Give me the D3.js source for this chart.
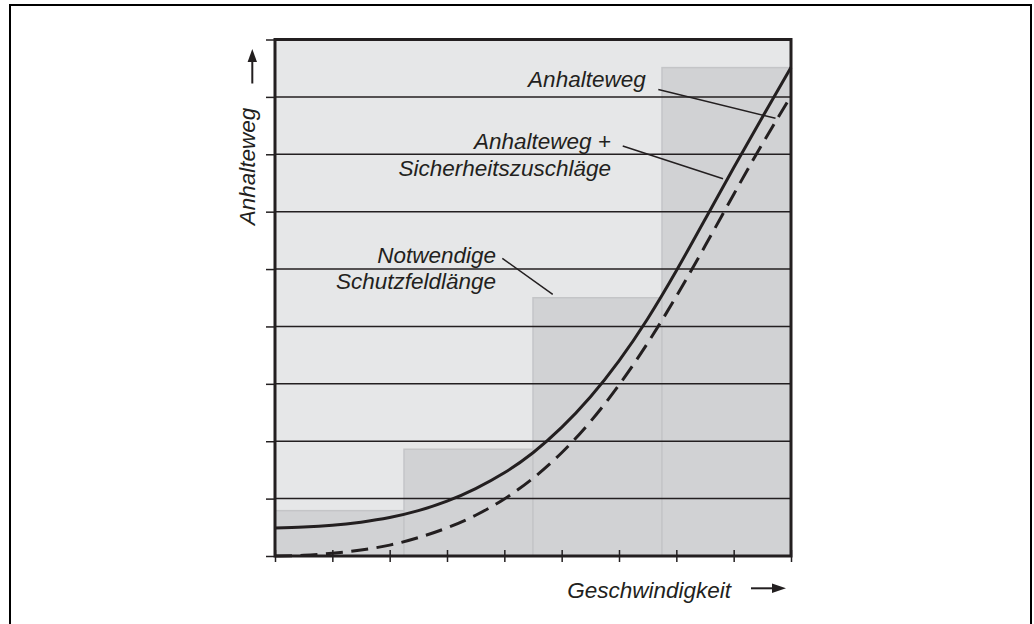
<!DOCTYPE html>
<html>
<head>
<meta charset="utf-8">
<script src="https://cdn.jsdelivr.net/npm/d3@7"></script>
<style>
  html, body { margin: 0; padding: 0; background: #ffffff; }
  svg { display: block; }
  text { font-family: "Liberation Sans", Arial, sans-serif; font-style: italic; fill: #231f20; }
</style>
</head>
<body>
<svg id="chart" width="1034" height="624"></svg>
<script>
// ---- data ----
const speed = [0, 0.5, 1, 1.5, 2, 2.5, 3, 3.5, 4, 4.5, 5, 5.5, 6, 6.5, 7, 7.5, 8, 8.5, 9];
const anhalteweg = [0, 0.0125, 0.0475, 0.105, 0.19, 0.32, 0.49, 0.71, 0.995, 1.355, 1.80, 2.34, 2.98, 3.71, 4.525, 5.40, 6.30, 7.18, 8.015];
const anhaltewegPlus = [0.49, 0.505, 0.535, 0.59, 0.67, 0.79, 0.955, 1.175, 1.45, 1.80, 2.24, 2.77, 3.40, 4.135, 4.97, 5.865, 6.765, 7.645, 8.515];
const barStart = [0, 2.25, 4.5, 6.75];
const barEnd = [2.25, 4.5, 6.75, 9];
const barHeight = [0.79, 1.86, 4.5, 8.51];
const yTickValues = [0, 1, 2, 3, 4, 5, 6, 7, 8, 9];
const xTickValues = [0, 1, 2, 3, 4, 5, 6, 7, 8, 9];
const gridValues = [1, 2, 3, 4, 5, 6, 7, 8];
const yLabel = "Anhalteweg";
const xLabel = "Geschwindigkeit";
const labelAnhalteweg = ["Anhalteweg"];
const labelPlus = ["Anhalteweg +", "Sicherheitszuschläge"];
const labelSchutz = ["Notwendige", "Schutzfeldlänge"];

// ---- layout ----
const svg = d3.select("#chart");
const ink = "#231f20";
const x = d3.scaleLinear().domain([0, 9]).range([275, 791]);
const y = d3.scaleLinear().domain([0, 9]).range([556, 39.5]);

// outer frame (open at bottom)
svg.append("path")
  .attr("d", "M10,624 V5 H1031 V624")
  .attr("fill", "none").attr("stroke", "#000").attr("stroke-width", 2);

// plot background
svg.append("rect")
  .attr("x", x(0)).attr("y", y(9))
  .attr("width", x(9) - x(0)).attr("height", y(0) - y(9))
  .attr("fill", "#e6e7e8");

// bars
const bars = barStart.map((s, i) => ({ s, e: barEnd[i], h: barHeight[i] }));
svg.append("g").selectAll("rect").data(bars).join("rect")
  .attr("x", d => x(d.s))
  .attr("y", d => y(d.h))
  .attr("width", d => x(d.e) - x(d.s))
  .attr("height", d => y(0) - y(d.h))
  .attr("fill", "#d1d2d4")
  .attr("stroke", "#c4c5c7")
  .attr("stroke-width", 1.5);

// grid lines
svg.append("g").selectAll("line").data(gridValues).join("line")
  .attr("x1", x(0)).attr("x2", x(9))
  .attr("y1", d => y(d)).attr("y2", d => y(d))
  .attr("stroke", ink).attr("stroke-width", 1.5);

// curves
const line = d3.line().curve(d3.curveNatural);
svg.append("path")
  .attr("d", line(speed.map((v, i) => [x(v), y(anhalteweg[i])])))
  .attr("fill", "none").attr("stroke", ink).attr("stroke-width", 3)
  .attr("stroke-dasharray", "17,8.5");
svg.append("path")
  .attr("d", line(speed.map((v, i) => [x(v), y(anhaltewegPlus[i])])))
  .attr("fill", "none").attr("stroke", ink).attr("stroke-width", 3);

// axes
const yAxis = d3.axisLeft(y).tickValues(yTickValues).tickSize(9).tickFormat("");
const gy = svg.append("g").attr("transform", `translate(${x(0)},0)`).call(yAxis);
gy.select(".domain").remove();
gy.selectAll(".tick line").attr("stroke", ink).attr("stroke-width", 1.5);

const xAxis = d3.axisBottom(x).tickValues(xTickValues).tickSize(6).tickFormat("");
const gx = svg.append("g").attr("transform", `translate(0,${y(0)})`).call(xAxis);
gx.select(".domain").remove();
gx.selectAll(".tick line").attr("y1", -6).attr("y2", 6)
  .attr("stroke", ink).attr("stroke-width", 1.5);

// plot frame
svg.append("rect")
  .attr("x", x(0)).attr("y", y(9))
  .attr("width", x(9) - x(0)).attr("height", y(0) - y(9))
  .attr("fill", "none").attr("stroke", ink).attr("stroke-width", 3);

// leader lines (data units)
const leaders = [
  [[6.686, 8.128], [8.73, 7.627]],
  [[6.065, 7.144], [7.814, 6.574]],
  [[3.965, 5.187], [4.844, 4.56]]
];
svg.append("g").selectAll("line").data(leaders).join("line")
  .attr("x1", d => x(d[0][0])).attr("y1", d => y(d[0][1]))
  .attr("x2", d => x(d[1][0])).attr("y2", d => y(d[1][1]))
  .attr("stroke", ink).attr("stroke-width", 1.5);

// labels
const fs = "22.5px";
function block(lines, xr, yBase, dy) {
  const t = svg.append("text").attr("text-anchor", "end").style("font-size", fs);
  lines.forEach((l, i) => {
    t.append("tspan").attr("x", x(xr)).attr("y", yBase + i * dy).text(l);
  });
}
block(labelAnhalteweg, 6.466, 86.7, 0);
block(labelPlus, 5.861, 148.5, 27.5);
block(labelSchutz, 3.855, 262.7, 26);

// y axis label + arrow
svg.append("text")
  .attr("transform", "translate(255,166.5) rotate(-90)")
  .attr("text-anchor", "middle")
  .style("font-size", fs)
  .text(yLabel);
svg.append("line").attr("x1", 252.3).attr("x2", 252.3).attr("y1", 83.5).attr("y2", 60)
  .attr("stroke", ink).attr("stroke-width", 2);
svg.append("path").attr("d", "M252.3,49 L257,62 L247.6,62 Z").attr("fill", ink);

// x axis label + arrow
svg.append("text")
  .attr("x", 731).attr("y", 598.3)
  .attr("text-anchor", "end")
  .style("font-size", fs)
  .text(xLabel);
svg.append("line").attr("x1", 751).attr("x2", 774).attr("y1", 588.3).attr("y2", 588.3)
  .attr("stroke", ink).attr("stroke-width", 2);
svg.append("path").attr("d", "M786,588.3 L772,583.6 L772,593 Z").attr("fill", ink);
</script>
</body>
</html>
